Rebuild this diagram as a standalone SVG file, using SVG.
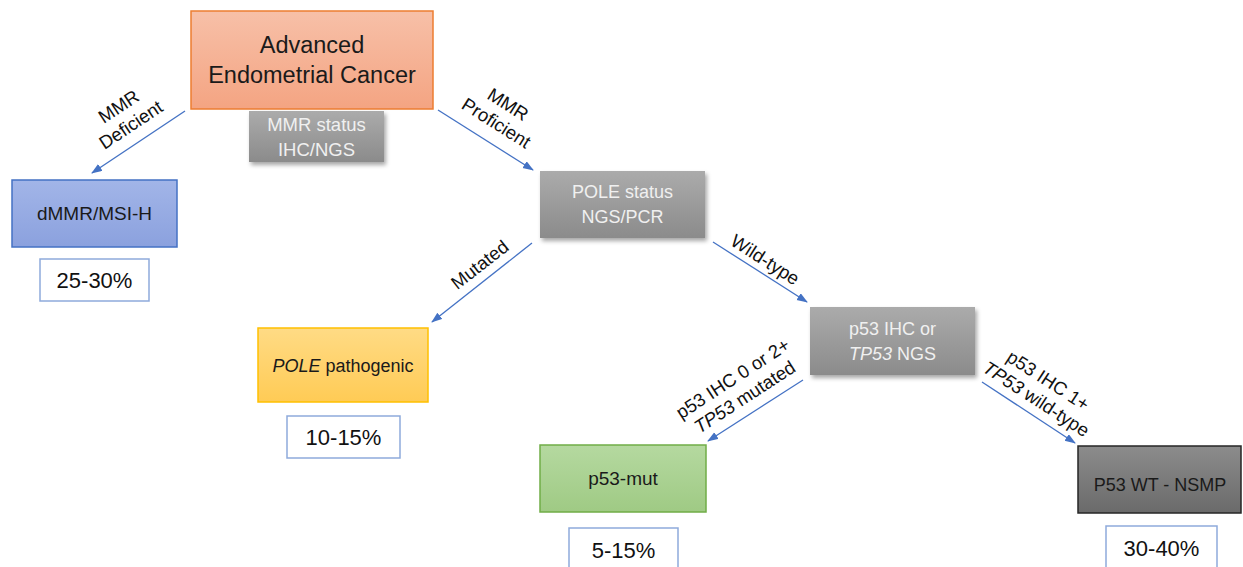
<svg xmlns="http://www.w3.org/2000/svg" width="1243" height="567" viewBox="0 0 1243 567">
<defs>
<linearGradient id="gOrange" x1="0" y1="0" x2="0" y2="1"><stop offset="0" stop-color="#f7c0a8"/><stop offset="1" stop-color="#f4a482"/></linearGradient>
<linearGradient id="gGray" x1="0" y1="0" x2="0" y2="1"><stop offset="0" stop-color="#ababab"/><stop offset="1" stop-color="#8b8b8b"/></linearGradient>
<linearGradient id="gBlue" x1="0" y1="0" x2="0" y2="1"><stop offset="0" stop-color="#a2b5e8"/><stop offset="1" stop-color="#8ba1de"/></linearGradient>
<linearGradient id="gYellow" x1="0" y1="0" x2="0" y2="1"><stop offset="0" stop-color="#ffdb85"/><stop offset="1" stop-color="#ffcb55"/></linearGradient>
<linearGradient id="gGreen" x1="0" y1="0" x2="0" y2="1"><stop offset="0" stop-color="#b5d9a0"/><stop offset="1" stop-color="#9fca84"/></linearGradient>
<linearGradient id="gDark" x1="0" y1="0" x2="0" y2="1"><stop offset="0" stop-color="#8c8c8c"/><stop offset="1" stop-color="#6a6a6a"/></linearGradient>
<filter id="shadow" x="-10%" y="-10%" width="125%" height="135%"><feDropShadow dx="2" dy="3" stdDeviation="2" flood-color="#000" flood-opacity="0.35"/></filter>
<marker id="arr" markerUnits="userSpaceOnUse" markerWidth="12" markerHeight="10" refX="10" refY="4" orient="auto"><path d="M0,0 L11,4 L0,8 Z" fill="#4472c4"/></marker>
</defs>
<style>
text{font-family:"Liberation Sans",Arial,sans-serif;}
.dark{fill:#1a1a1a;}
.white{fill:#f0f0f0;}
.lbl{font-size:18.5px;fill:#111;text-anchor:middle;}
.pct{fill:#fff;stroke:#8eaadb;stroke-width:1.5;}
.pt{font-size:22px;fill:#111;text-anchor:middle;}
.c{text-anchor:middle;}
.conn line{stroke:#4472c4;stroke-width:1.3;marker-end:url(#arr);}
</style>
<rect width="1243" height="567" fill="#fff"/>

<g id="advanced">
<rect x="191" y="11" width="242" height="98" fill="url(#gOrange)" stroke="#ed7d31" stroke-width="1.5"/>
<text x="312" y="53" class="c dark" font-size="23.5">Advanced</text>
<text x="312" y="83" class="c dark" font-size="23.5">Endometrial Cancer</text>
</g>

<g id="mmr-status">
<rect x="249" y="111" width="135" height="51" fill="url(#gGray)" filter="url(#shadow)"/>
<text x="316.5" y="131" class="c white" font-size="18.5">MMR status</text>
<text x="316.5" y="156" class="c white" font-size="18.5">IHC/NGS</text>
</g>

<g id="dmmr">
<rect x="12" y="180" width="165" height="67" fill="url(#gBlue)" stroke="#4472c4" stroke-width="1.5"/>
<text x="94.5" y="220" class="c dark" font-size="19">dMMR/MSI-H</text>
</g>
<g id="pct-dmmr">
<rect x="40" y="259" width="109" height="42" class="pct"/>
<text x="94.5" y="288" class="pt">25-30%</text>
</g>

<g id="pole-status">
<rect x="540" y="171" width="165" height="67" fill="url(#gGray)" filter="url(#shadow)"/>
<text x="622.5" y="198" class="c white" font-size="18">POLE status</text>
<text x="622.5" y="223" class="c white" font-size="18">NGS/PCR</text>
</g>

<g id="pole-pathogenic">
<rect x="258" y="328" width="170" height="74" fill="url(#gYellow)" stroke="#ffc000" stroke-width="1.5"/>
<text x="343" y="372" class="c dark" font-size="18"><tspan font-style="italic">POLE</tspan> pathogenic</text>
</g>
<g id="pct-pole">
<rect x="287" y="416" width="113" height="42" class="pct"/>
<text x="343.5" y="445" class="pt">10-15%</text>
</g>

<g id="p53-test">
<rect x="810" y="307" width="165" height="68" fill="url(#gGray)" filter="url(#shadow)"/>
<text x="892.5" y="335" class="c white" font-size="18">p53 IHC or</text>
<text x="892.5" y="360" class="c white" font-size="18"><tspan font-style="italic">TP53</tspan> NGS</text>
</g>

<g id="p53-mut">
<rect x="540" y="445" width="166" height="67" fill="url(#gGreen)" stroke="#70ad47" stroke-width="1.5"/>
<text x="623" y="485" class="c dark" font-size="19">p53-mut</text>
</g>
<g id="pct-p53mut">
<rect x="569" y="528" width="109" height="45" class="pct"/>
<text x="623.5" y="558" class="pt">5-15%</text>
</g>

<g id="nsmp">
<rect x="1078" y="446" width="163" height="67" fill="url(#gDark)" stroke="#262626" stroke-width="1.5"/>
<text x="1160" y="491" class="c dark" font-size="18">P53 WT - NSMP</text>
</g>
<g id="pct-nsmp">
<rect x="1106" y="526" width="111" height="47" class="pct"/>
<text x="1161.5" y="556" class="pt">30-40%</text>
</g>

<g id="connectors" class="conn">
<line x1="185" y1="111" x2="92" y2="173"/>
<line x1="438" y1="110" x2="533" y2="170"/>
<line x1="532" y1="243" x2="432" y2="322"/>
<line x1="713" y1="242" x2="807" y2="302"/>
<line x1="803" y1="380" x2="708" y2="441"/>
<line x1="982" y1="382" x2="1075" y2="443"/>
</g>

<g id="labels">
<g transform="translate(125,116) rotate(-33.7)">
<text x="0" y="-5" class="lbl">MMR</text>
<text x="0" y="17" class="lbl">Deficient</text>
</g>
<g transform="translate(502,114) rotate(32.3)">
<text x="0" y="-5" class="lbl">MMR</text>
<text x="0" y="17" class="lbl">Proficient</text>
</g>
<g transform="translate(480,265) rotate(-38)">
<text x="0" y="6" class="lbl">Mutated</text>
</g>
<g transform="translate(765,260) rotate(32.5)">
<text x="0" y="6" class="lbl">Wild-type</text>
</g>
<g transform="translate(739,388) rotate(-33)">
<text x="0" y="-5" class="lbl">p53 IHC 0 or 2+</text>
<text x="0" y="17" class="lbl"><tspan font-style="italic">TP53</tspan> mutated</text>
</g>
<g transform="translate(1042,390) rotate(33)">
<text x="0" y="-5" class="lbl">p53 IHC 1+</text>
<text x="0" y="17" class="lbl"><tspan font-style="italic">TP53</tspan> wild-type</text>
</g>
</g>
</svg>
